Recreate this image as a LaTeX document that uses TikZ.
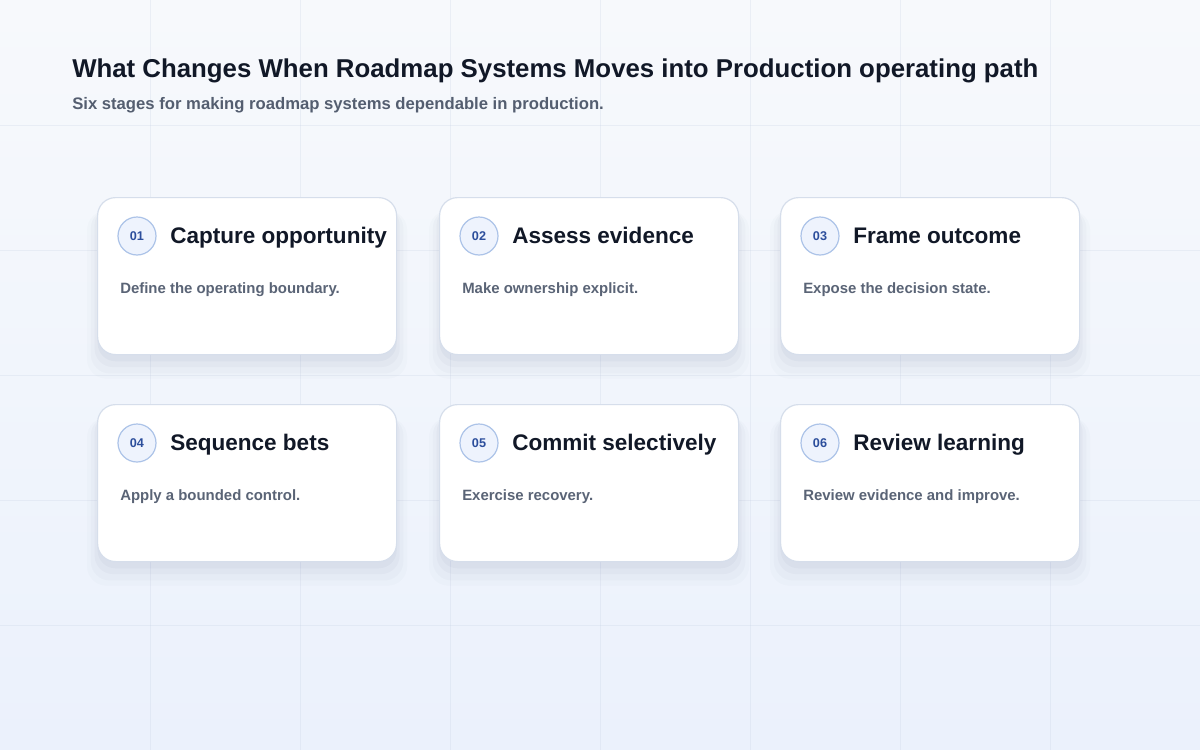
\documentclass[tikz,border=0pt]{standalone}
\usepackage{fontspec}
\setmainfont{Liberation Sans}
\usetikzlibrary{shadows}

\definecolor{bgtop}{RGB}{247,249,252}
\definecolor{bgbot}{RGB}{235,241,252}
\definecolor{gridcol}{RGB}{190,202,224}
\definecolor{ink}{RGB}{17,24,39}
\definecolor{subink}{RGB}{84,94,112}
\definecolor{descink}{RGB}{90,100,118}
\definecolor{cardline}{RGB}{214,222,235}
\definecolor{shadowcol}{RGB}{40,60,110}
\definecolor{badgefill}{RGB}{238,243,253}
\definecolor{badgeline}{RGB}{172,195,232}
\definecolor{badgeink}{RGB}{44,78,156}

\begin{document}
\begin{tikzpicture}[x=0.75pt, y=-0.75pt,
    card/.style={rectangle, draw=cardline, line width=0.9pt, fill=white, rounded corners=13.5pt,
        minimum width=224.25pt, minimum height=117.75pt, anchor=north west,
        general shadow={draw=none, fill=shadowcol, opacity=0.035, shadow yshift=-5pt},
        general shadow={draw=none, fill=shadowcol, opacity=0.03, shadow scale=1.02, shadow yshift=-8pt},
        general shadow={draw=none, fill=shadowcol, opacity=0.022, shadow scale=1.045, shadow yshift=-11pt},
        general shadow={draw=none, fill=shadowcol, opacity=0.014, shadow scale=1.07, shadow yshift=-13pt}},
    badge/.style={circle, draw=badgeline, line width=0.9pt, fill=badgefill, minimum size=28.5pt,
        inner sep=0pt, text=badgeink, font=\bfseries\fontsize{9.5}{11}\selectfont},
    cardtitle/.style={anchor=base west, inner sep=0pt, text=ink, font=\bfseries\fontsize{16.9}{19}\selectfont},
    carddesc/.style={anchor=base west, inner sep=0pt, text=descink, font=\bfseries\fontsize{11.2}{13}\selectfont},
    gridline/.style={gridcol, draw opacity=0.22, line width=0.75pt}]

        % Background
        \useasboundingbox (0,0) rectangle (1200,750);
        \shade[top color=bgtop, bottom color=bgbot] (0,0) rectangle (1200,750);
        \foreach \x in {150,300,...,1050} \draw[gridline] (\x,0) -- (\x,750);
        \foreach \y in {125,250,...,625} \draw[gridline] (0,\y) -- (1200,\y);

        % Heading
        \node[anchor=base west, inner sep=0pt, text=ink, font=\bfseries\fontsize{19.35}{23}\selectfont] (title) at (72,77) {What Changes When Roadmap Systems Moves into Production operating path};
        \node[anchor=base west, inner sep=0pt, text=subink, font=\bfseries\fontsize{12.5}{15}\selectfont] (subtitle) at (72,109) {Six stages for making roadmap systems dependable in production.};

        % Cards
        \node[card] (c1) at (97,197) {};
        \node[card] (c2) at (439,197) {};
        \node[card] (c3) at (780,197) {};
        \node[card] (c4) at (97,404) {};
        \node[card] (c5) at (439,404) {};
        \node[card] (c6) at (780,404) {};

        % Badges
        \node[badge] (b1) at (137,236) {01};
        \node[badge] (b2) at (479,236) {02};
        \node[badge] (b3) at (820,236) {03};
        \node[badge] (b4) at (137,443) {04};
        \node[badge] (b5) at (479,443) {05};
        \node[badge] (b6) at (820,443) {06};

        % Titles
        \node[cardtitle] (t1) at (170,243) {Capture opportunity};
        \node[cardtitle] (t2) at (512,243) {Assess evidence};
        \node[cardtitle] (t3) at (853,243) {Frame outcome};
        \node[cardtitle] (t4) at (170,450) {Sequence bets};
        \node[cardtitle] (t5) at (512,450) {Commit selectively};
        \node[cardtitle] (t6) at (853,450) {Review learning};

        % Descriptions
        \node[carddesc] (d1) at (120,293) {Define the operating boundary.};
        \node[carddesc] (d2) at (462,293) {Make ownership explicit.};
        \node[carddesc] (d3) at (803,293) {Expose the decision state.};
        \node[carddesc] (d4) at (120,500) {Apply a bounded control.};
        \node[carddesc] (d5) at (462,500) {Exercise recovery.};
        \node[carddesc] (d6) at (803,500) {Review evidence and improve.};
    \end{tikzpicture}
\end{document}
